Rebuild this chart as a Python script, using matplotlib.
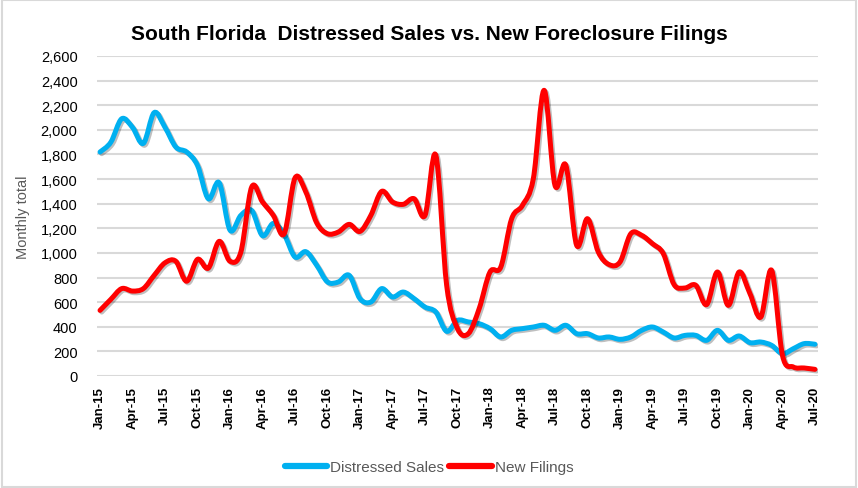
import matplotlib
matplotlib.use("Agg")
import matplotlib.pyplot as plt
import matplotlib.patheffects as pe
from matplotlib.path import Path
from matplotlib.patches import PathPatch, Rectangle
from matplotlib.lines import Line2D

# monthly values, Jan-15 .. Jul-20
distressed_sales = [
    1820, 1900, 2090, 2020, 1890, 2140, 2020, 1860, 1820, 1710,
    1440, 1570, 1185, 1305, 1345, 1140, 1240, 1150, 967, 1010,
    900, 764, 764, 818, 628, 601, 710, 642, 682, 628,
    560, 520, 363, 452, 439, 425, 385, 317, 371, 385,
    398, 412, 371, 412, 344, 344, 309, 317, 298, 317,
    371, 398, 357, 309, 330, 330, 290, 371, 290, 325,
    271, 276, 249, 181, 222, 263, 258,
]
new_filings = [
    533, 623, 710, 690, 710, 818, 920, 932, 770, 948,
    877, 1094, 932, 1007, 1535, 1414, 1305, 1156, 1609, 1495,
    1245, 1156, 1170, 1232, 1175, 1305, 1500, 1414, 1395, 1440,
    1305, 1793, 737, 385, 344, 547, 845, 886, 1278, 1387,
    1603, 2321, 1549, 1712, 1062, 1278, 1007, 905, 926, 1156,
    1143, 1075, 994, 742, 715, 737, 580, 845, 574, 845,
    669, 479, 858, 168, 73, 65, 54,
]
tick_labels = [
    "Jan-15", "Apr-15", "Jul-15", "Oct-15", "Jan-16", "Apr-16", "Jul-16",
    "Oct-16", "Jan-17", "Apr-17", "Jul-17", "Oct-17", "Jan-18", "Apr-18",
    "Jul-18", "Oct-18", "Jan-19", "Apr-19", "Jul-19", "Oct-19", "Jan-20",
    "Apr-20", "Jul-20",
]
y_ticks = list(range(0, 2601, 200))

BLUE = "#00B0F0"
RED = "#FF0000"


def smooth_path(xs, ys):
    # Excel style smoothed line: cubic bezier through every point
    n = len(xs)
    verts = [(xs[0], ys[0])]
    codes = [Path.MOVETO]
    for i in range(n - 1):
        a = max(i - 1, 0)
        b = min(i + 2, n - 1)
        c1 = (xs[i] + (xs[i + 1] - xs[a]) / 6, ys[i] + (ys[i + 1] - ys[a]) / 6)
        c2 = (xs[i + 1] - (xs[b] - xs[i]) / 6, ys[i + 1] - (ys[b] - ys[i]) / 6)
        verts += [c1, c2, (xs[i + 1], ys[i + 1])]
        codes += [Path.CURVE4] * 3
    return Path(verts, codes)


fig = plt.figure(figsize=(8.58, 4.89), dpi=100)
ax = fig.add_axes([97 / 858, 1 - 377 / 489, (818 - 97) / 858, 320 / 489])

months = list(range(len(distressed_sales)))
shadow = [pe.SimpleLineShadow(offset=(1.2, -1.2), shadow_color="k", alpha=0.25), pe.Normal()]
for vals, col in [(distressed_sales, BLUE), (new_filings, RED)]:
    patch = PathPatch(smooth_path(months, vals), fill=False, edgecolor=col, lw=3.6,
                      capstyle="round", joinstyle="round", zorder=3)
    patch.set_path_effects(shadow)
    ax.add_patch(patch)

ax.set_xlim(-0.28, len(months) - 1 + 0.28)
ax.set_ylim(0, 2600)
ax.set_yticks(y_ticks)
ax.set_yticklabels([f"{v:,}" for v in y_ticks], fontsize=10.5, family="Liberation Sans")
ax.set_xticks(months[::3])
ax.set_xticklabels(tick_labels, rotation=90, fontsize=9.5, fontweight="bold",
                   family="Liberation Sans")
ax.tick_params(length=0, pad=7)
ax.tick_params(axis="y", pad=14)
ax.grid(axis="y", color="#d9d9d9", lw=1.5)
ax.set_axisbelow(True)
for s in ax.spines.values():
    s.set_visible(False)

ax.set_ylabel("Monthly total", fontsize=10.5, color="#595959", family="Liberation Sans",
              labelpad=8)
fig.text(0.5, 1 - 34 / 489, "South Florida  Distressed Sales vs. New Foreclosure Filings",
         ha="center", va="center", fontsize=15, fontweight="bold", family="Liberation Sans")

handles = [Line2D([], [], color=BLUE, lw=4.5, solid_capstyle="round"),
           Line2D([], [], color=RED, lw=4.5, solid_capstyle="round")]
fig.legend(handles, ["Distressed Sales", "New Filings"], loc="center",
           bbox_to_anchor=(0.5, 1 - 468 / 489), ncol=2, frameon=False,
           handlelength=2.8, handletextpad=0.2, columnspacing=0.3,
           prop={"family": "Liberation Sans", "size": 11}, labelcolor="#595959")

fig.patches.append(Rectangle((0.002, 0.003), 0.996, 0.994, transform=fig.transFigure,
                             fill=False, edgecolor="#d9d9d9", lw=1.5))

fig.savefig("out.png", dpi=100)
